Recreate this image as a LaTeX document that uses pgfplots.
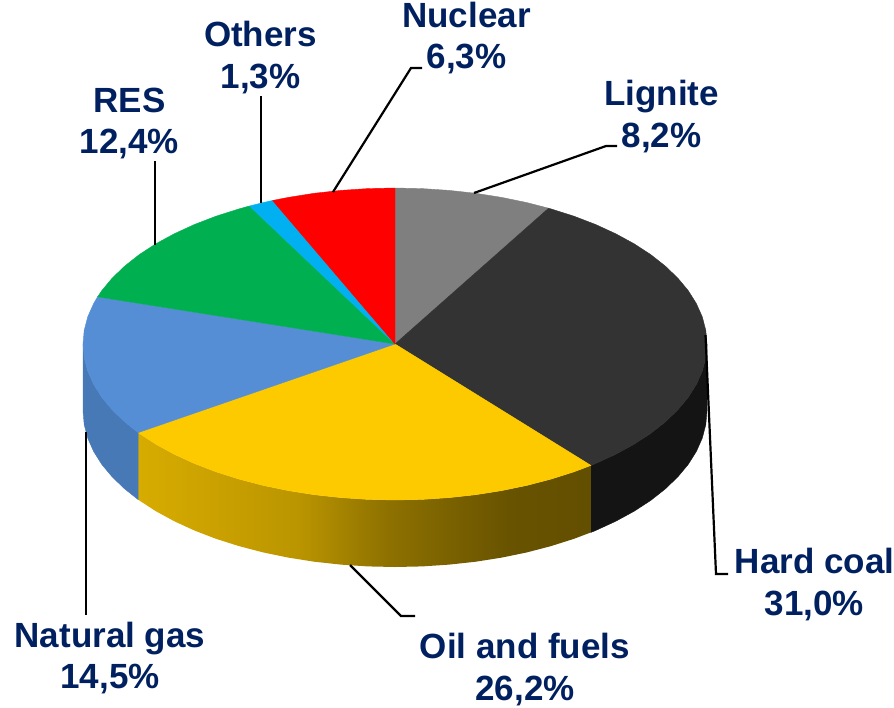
\documentclass[border=0pt]{standalone}
\usepackage{fontspec}
\setmainfont{Liberation Sans}
\usepackage{pgfplots}
\pgfplotsset{compat=1.18}

\definecolor{txt}{HTML}{002060}
\definecolor{cgray}{HTML}{7F7F7F}
\definecolor{ccoal}{HTML}{333333}
\definecolor{ccoalside}{HTML}{141414}
\definecolor{coil}{HTML}{FDCA00}
\definecolor{cgas}{HTML}{558ED5}
\definecolor{cgasside}{HTML}{4679B5}
\definecolor{cres}{HTML}{00B050}
\definecolor{coth}{HTML}{00B0F0}
\definecolor{cnuc}{HTML}{FF0000}

% the path's box maps onto 25bp..75bp of the shading
\pgfdeclarehorizontalshading{oilside}{100bp}{
  color(0bp)=(coil!85!black);
  color(25bp)=(coil!85!black);
  color(42.5bp)=(coil!74!black);
  color(52.5bp)=(coil!56!black);
  color(66bp)=(coil!41!black);
  color(75bp)=(coil!39!black);
  color(100bp)=(coil!39!black)}

\tikzset{
  slice/.style={draw=#1, fill=#1, line width=0.4pt, line join=round},
  lead/.style={black, line width=2.2pt, line join=miter},
  lab/.style={font=\bfseries\fontsize{35}{40}\selectfont, text=txt, inner sep=0pt, anchor=base},
}

\begin{document}
\begin{tikzpicture}
\useasboundingbox (0,0) rectangle (894pt,707pt);
\begin{axis}[
  scale only axis,
  width=894pt,
  height=707pt,
  xmin=0, xmax=894,
  ymin=0, ymax=707,
  y dir=reverse,
  hide axis,
  clip=false,
]
% shares: lignite 8.2, hard coal 31.0, oil 26.2, gas 14.5, RES 12.4, others 1.3, nuclear 6.3
% side walls, depth 67 px
\addplot[slice=ccoalside] coordinates {
  (707,344)(705.8,357.6)(702.3,371.1)(696.4,384.4)(688.2,397.4)(677.8,409.9)(665.2,422)(650.6,433.5)
  (634,444.3)(615.6,454.3)(595.6,463.5)(590.9,465.4)
  (590.9,532.4)(595.6,530.5)(615.6,521.3)(634,511.3)(650.6,500.5)(665.2,489)(677.8,476.9)(688.2,464.4)
  (696.4,451.4)(702.3,438.1)(705.8,424.6)(707,411)} -- cycle;
\addplot[draw=none, shade, shading=oilside] coordinates {
  (590.9,465.4)(574,471.8)(551,479.1)(526.9,485.4)(501.7,490.6)(475.8,494.7)(449.2,497.6)(422.2,499.4)(395,500)
  (367.8,499.4)(340.8,497.6)(314.2,494.7)(288.3,490.6)(263.1,485.4)(239,479.1)(216,471.8)(194.4,463.5)
  (174.4,454.3)(156,444.3)(139.4,433.5)(138.2,432.6)
  (138.2,499.6)(139.4,500.5)(156,511.3)(174.4,521.3)(194.4,530.5)(216,538.8)(239,546.1)(263.1,552.4)
  (288.3,557.6)(314.2,561.7)(340.8,564.6)(367.8,566.4)(395,567)(422.2,566.4)(449.2,564.6)(475.8,561.7)
  (501.7,557.6)(526.9,552.4)(551,546.1)(574,538.8)(590.9,532.4)} -- cycle;
\addplot[slice=cgasside] coordinates {
  (138.2,432.6)(124.8,422)(112.2,409.9)(101.8,397.4)(93.6,384.4)(87.7,371.1)(84.2,357.6)(83,344)
  (83,411)(84.2,424.6)(87.7,438.1)(93.6,451.4)(101.8,464.4)(112.2,476.9)(124.8,489)(138.2,499.6)} -- cycle;
% top face
\addplot[slice=cgray] coordinates {
  (395,344)(395,188)(422.2,188.6)(449.2,190.4)(475.8,193.3)(501.7,197.4)(526.9,202.6)(548.6,208.2)} -- cycle;
\addplot[slice=ccoal] coordinates {
  (395,344)(548.6,208.2)(551,208.9)(574,216.2)(595.6,224.5)(615.6,233.7)(634,243.7)(650.6,254.5)(665.2,266)
  (677.8,278.1)(688.2,290.6)(696.4,303.6)(702.3,316.9)(705.8,330.4)(707,344)(705.8,357.6)(702.3,371.1)
  (696.4,384.4)(688.2,397.4)(677.8,409.9)(665.2,422)(650.6,433.5)(634,444.3)(615.6,454.3)(595.6,463.5)(590.9,465.4)} -- cycle;
\addplot[slice=coil] coordinates {
  (395,344)(590.9,465.4)(574,471.8)(551,479.1)(526.9,485.4)(501.7,490.6)(475.8,494.7)(449.2,497.6)(422.2,499.4)
  (395,500)(367.8,499.4)(340.8,497.6)(314.2,494.7)(288.3,490.6)(263.1,485.4)(239,479.1)(216,471.8)(194.4,463.5)
  (174.4,454.3)(156,444.3)(139.4,433.5)(138.2,432.6)} -- cycle;
\addplot[slice=cgas] coordinates {
  (395,344)(138.2,432.6)(124.8,422)(112.2,409.9)(101.8,397.4)(93.6,384.4)(87.7,371.1)(84.2,357.6)(83,344)
  (84.2,330.4)(87.7,316.9)(93.6,303.6)(97.6,296.8)} -- cycle;
\addplot[slice=cres] coordinates {
  (395,344)(97.6,296.8)(101.8,290.6)(112.2,278.1)(124.8,266)(139.4,254.5)(156,243.7)(174.4,233.7)(194.4,224.5)
  (216,216.2)(239,208.9)(249.5,206)} -- cycle;
\addplot[slice=coth] coordinates {
  (395,344)(249.5,206)(263.1,202.6)(272.6,200.5)} -- cycle;
\addplot[slice=cnuc] coordinates {
  (395,344)(272.6,200.5)(288.3,197.4)(314.2,193.3)(340.8,190.4)(367.8,188.6)(395,188)} -- cycle;
% leader lines
\addplot[lead] coordinates {(474,193)(606,146)(617,146)};
\addplot[lead] coordinates {(705.5,335)(716,574)(728,574)};
\addplot[lead] coordinates {(350,565)(401,616)(415,616)};
\addplot[lead] coordinates {(86,432)(86,615)};
\addplot[lead] coordinates {(155,245)(155,161)};
\addplot[lead] coordinates {(261,203)(261,96)};
\addplot[lead] coordinates {(333,192)(411,68)(422,68)};
% labels
\node[lab] at (axis cs:466.5,27) {Nuclear};
\node[lab] at (axis cs:466.5,68) {6,3\%};
\node[lab] at (axis cs:661.5,105) {Lignite};
\node[lab] at (axis cs:661.5,147) {8,2\%};
\node[lab] at (axis cs:260.5,46) {Others};
\node[lab] at (axis cs:260.5,88) {1,3\%};
\node[lab] at (axis cs:129.5,112) {RES};
\node[lab] at (axis cs:129.5,153) {12,4\%};
\node[lab] at (axis cs:814.5,573) {Hard coal};
\node[lab] at (axis cs:814.5,615) {31,0\%};
\node[lab] at (axis cs:525,658.5) {Oil and fuels};
\node[lab] at (axis cs:525,700) {26,2\%};
\node[lab] at (axis cs:110,647) {Natural gas};
\node[lab] at (axis cs:110,688) {14,5\%};
\end{axis}
\end{tikzpicture}
\end{document}
